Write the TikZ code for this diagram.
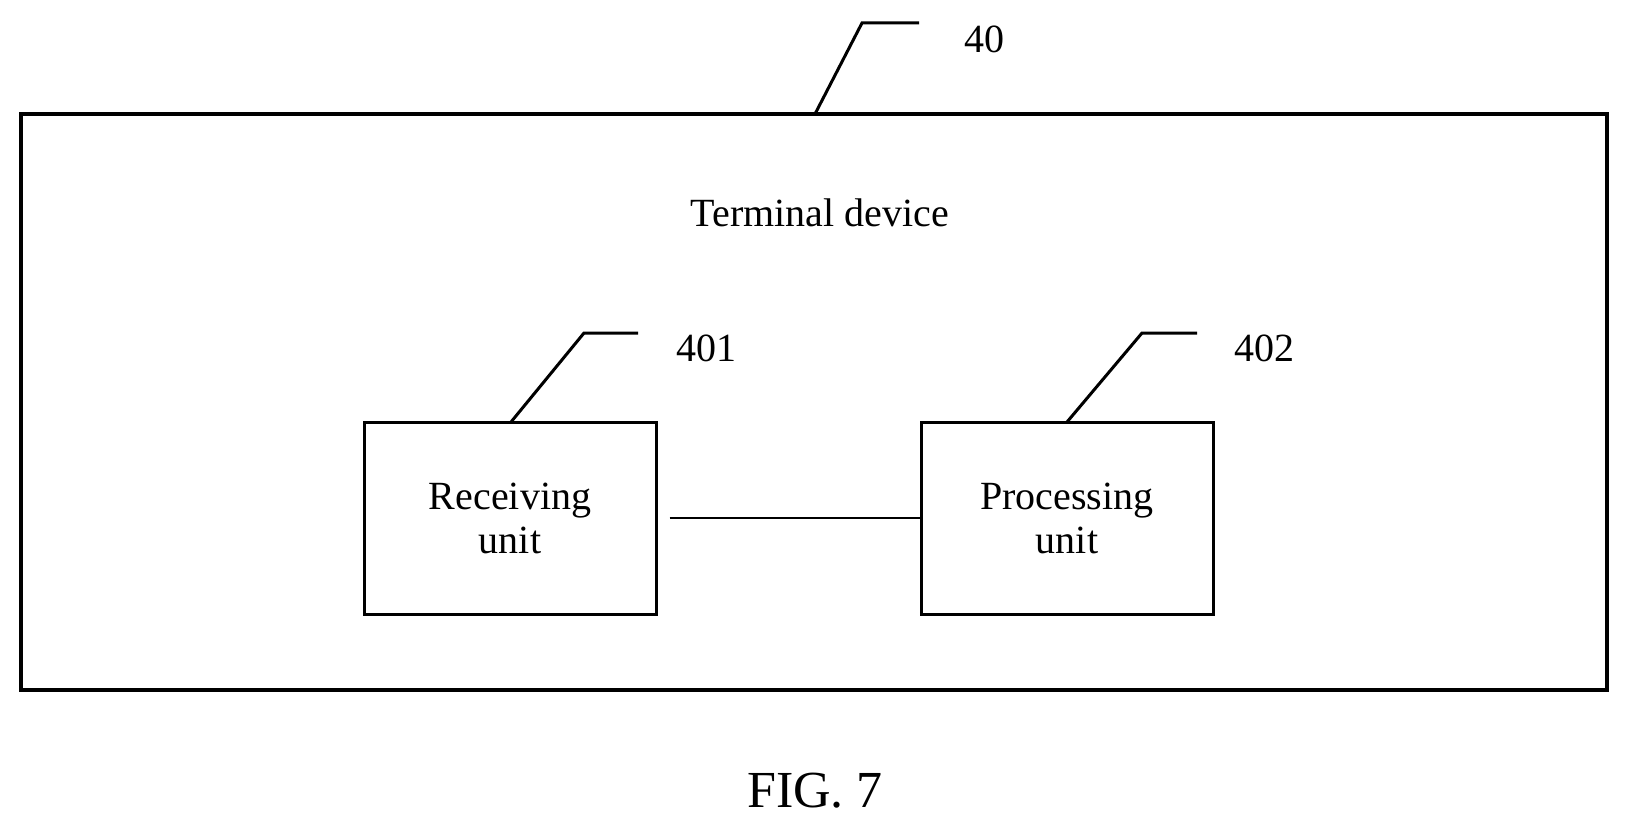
\documentclass[tikz,border=0pt]{standalone}
\usepackage{fontspec}
\setmainfont{Liberation Serif}
\begin{document}
\begin{tikzpicture}[x=1pt,y=-1pt]

\tikzset{unit/.style = {draw, line width=3pt, minimum width=292pt, minimum height=192pt, align=center, font=\fontsize{40}{44}\selectfont}}
\tikzset{lead/.style = {line width=3pt}}
\tikzset{num/.style = {font=\fontsize{40}{44}\selectfont}}
\useasboundingbox (0,0) rectangle (1628,832);
%frame
\node[draw, line width=4.5pt, minimum width=1586pt, minimum height=576pt] (dev) at (814,402) {};
\node[num] (devtext) at (820,213) {Terminal device};
%units
\node[unit] (recv) at (510,518) {Receiving\\unit};
\node[unit] (proc) at (1067,518) {Processing\\unit};
\draw[line width=2.5pt] (recv.east) ++(12,0) coordinate (c1) -- ([xshift=0pt]proc.west);
%leaders
\coordinate (l40a) at (815,114);
\coordinate (l40b) at (862,23);
\coordinate (l40c) at (919,23);
\draw[lead] (l40a) -- (l40b) -- (l40c);
\node[num] (n40) at (984,39) {40};
\coordinate (l401a) at (511,422);
\coordinate (l401b) at (584,333);
\coordinate (l401c) at (638,333);
\draw[lead] (l401a) -- (l401b) -- (l401c);
\node[num] (n401) at (706,348) {401};
\coordinate (l402a) at (1067,422);
\coordinate (l402b) at (1142,333);
\coordinate (l402c) at (1197,333);
\draw[lead] (l402a) -- (l402b) -- (l402c);
\node[num] (n402) at (1264,348) {402};
%caption
\node[font=\fontsize{52}{56}\selectfont] (fig) at (815,791) {FIG. 7};

\end{tikzpicture}
\end{document}
